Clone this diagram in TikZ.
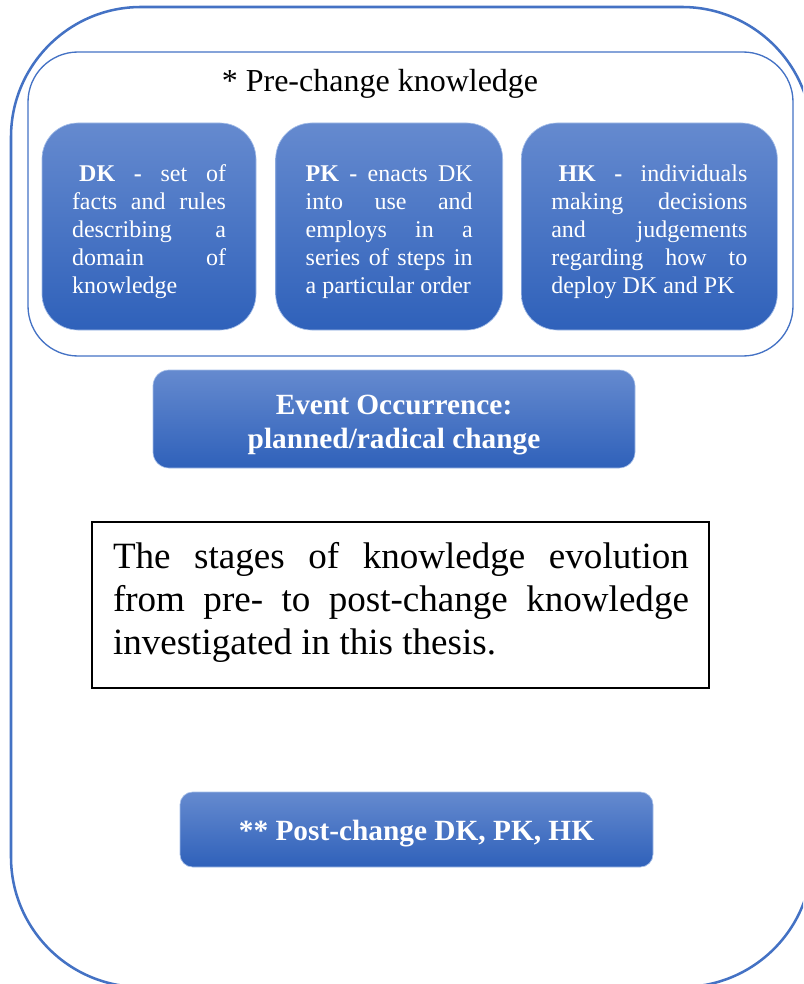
\documentclass[tikz,border=0pt]{standalone}
\usepackage{fontspec}
\setmainfont{Liberation Serif}
\usepackage{xcolor}
\usetikzlibrary{positioning}
\definecolor{frameblue}{RGB}{68,114,196}
\definecolor{shadetop}{RGB}{101,138,207}
\definecolor{shadebot}{RGB}{47,97,186}
\definecolor{boxedge}{RGB}{165,190,232}

\begin{document}
\begin{tikzpicture}[
  x=0.75pt, y=-0.75pt,
  outerframe/.style={draw=frameblue, line width=1.9pt, rounded corners=97.5pt},
  innerframe/.style={draw=frameblue, line width=1pt, rounded corners=37.5pt},
  bluebox/.style={rectangle, draw=boxedge, line width=0.5pt, top color=shadetop,
                  bottom color=shadebot, text=white},
  kbox/.style={bluebox, rounded corners=27pt, align=justify, minimum height=155.25pt,
               inner xsep=22.5pt, inner ysep=0pt, font=\fontsize{18}{21}\selectfont},
  evbox/.style={bluebox, rounded corners=12pt, align=center,
                font=\bfseries\fontsize{22}{25.5}\selectfont},
  noteframe/.style={rectangle, draw=black, line width=1.1pt, minimum width=462.75pt,
                    minimum height=124.5pt},
  notetext/.style={text width=432pt, align=justify, inner sep=0pt,
                   font=\fontsize{27.8}{32.25}\selectfont},
]
\useasboundingbox (0,0) rectangle (803,984);
\clip (0,0) rectangle (803,984);
% frames
\draw[outerframe] (11,7) rectangle (812,987);
\draw[innerframe] (28,52) rectangle (793,356);
\node[font=\fontsize{24}{28}\selectfont] (pre) at (380,84) {* Pre-change knowledge};
% pre-change knowledge row
\node[kbox, text width=115.5pt] (dk) at (149,226.5)
  {\rule{0pt}{20pt}\hspace*{0.3em}\textbf{DK -} set of\linebreak facts and rules\linebreak describing a\linebreak domain of\linebreak knowledge};
\node[kbox, text width=125.25pt, right=14.25pt of dk] (pk)
  {\rule{0pt}{20pt}\textbf{PK -} enacts DK\linebreak into use and\linebreak employs in a\linebreak series of steps in\linebreak a particular order};
\node[kbox, text width=147pt, right=13.5pt of pk] (hk)
  {\rule{0pt}{20pt}\hspace*{0.3em}\textbf{HK -} individuals\linebreak making decisions\linebreak and judgements\linebreak regarding how to\linebreak deploy DK and PK};
% change event and outcome
\node[evbox, minimum width=361.5pt, minimum height=73.5pt] (event) at (394,419)
  {\rule{0pt}{24pt}Event Occurrence:\\planned/radical change};
\node[noteframe] (frame) at (400.5,605) {};
\node[notetext] (note) at (401,602)
  {The stages of knowledge evolution\linebreak from pre- to post-change knowledge\linebreak investigated in this thesis.};
\node[evbox, rounded corners=9.5pt, minimum width=354.75pt, minimum height=56.25pt] (post) at (416.5,829.5)
  {\rule{0pt}{21pt}** Post-change DK, PK, HK};
\end{tikzpicture}
\end{document}
